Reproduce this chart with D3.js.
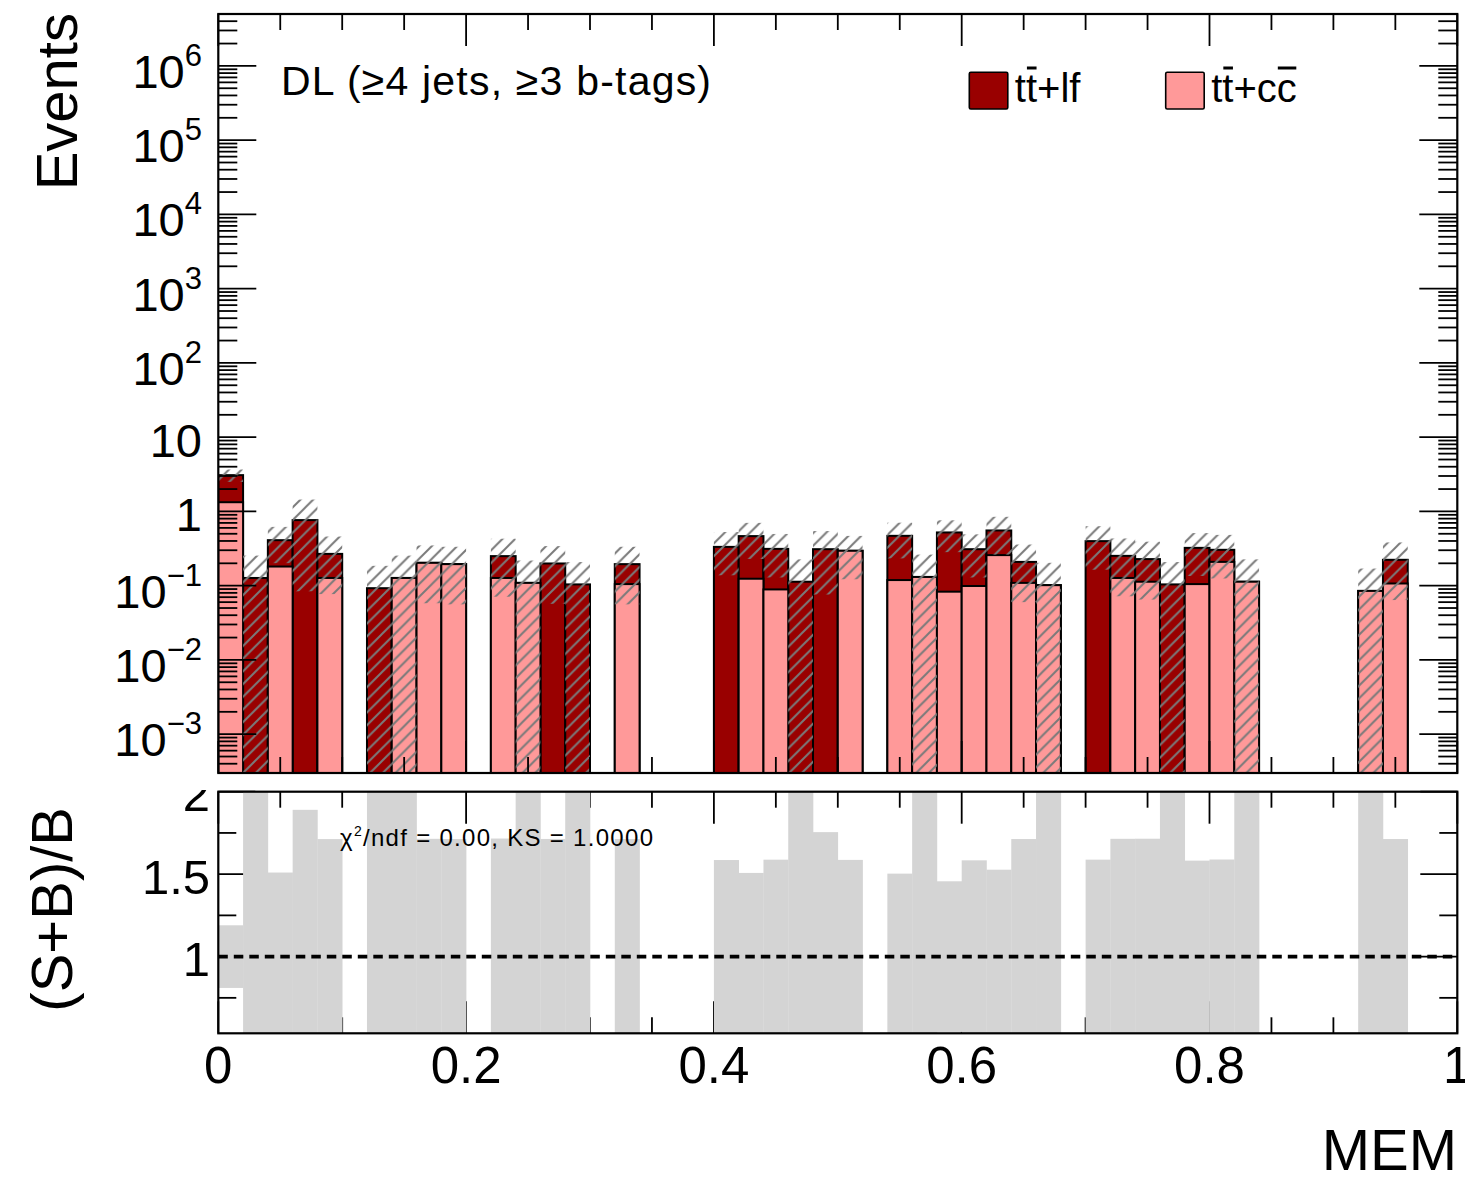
<!DOCTYPE html>
<html><head><meta charset="utf-8">
<script src="https://cdn.jsdelivr.net/npm/d3@7"></script>
<style>
body{margin:0;background:#fff}
text{font-family:"Liberation Sans",Arial,Helvetica,sans-serif;fill:#000}
</style>
</head><body>
<svg id="c" width="1465" height="1183" xmlns="http://www.w3.org/2000/svg"></svg>
<script>
// ---------------- data ----------------
const binLow = [0.00,0.02,0.04,0.06,0.08,0.10,0.12,0.14,0.16,0.18,
                0.20,0.22,0.24,0.26,0.28,0.30,0.32,0.34,0.36,0.38,
                0.40,0.42,0.44,0.46,0.48,0.50,0.52,0.54,0.56,0.58,
                0.60,0.62,0.64,0.66,0.68,0.70,0.72,0.74,0.76,0.78,
                0.80,0.82,0.84,0.86,0.88,0.90,0.92,0.94,0.96,0.98];
const binWidth = 0.02;
// tt+cc (bottom of stack)
const ttcc = [1.33,0,0.181,0,0.127,0,0,0.127,0.203,0.195,
              0,0.127,0.109,0,0,0,0.105,0,0,0,
              0,0.124,0.089,0,0,0.295,0,0.119,0.131,0.083,
              0.099,0.258,0.109,0.1016,0,0,0.127,0.113,0,0.105,
              0.209,0.113,0,0,0,0,0.085,0.107,0,0];
// tt+lf (top of stack)
const ttlf = [1.75,0.127,0.229,0.764,0.141,0,0.0925,0,0,0,
              0,0.123,0,0.199,0.104,0,0.09,0,0,0,
              0.333,0.341,0.224,0.113,0.31,0,0,0.35,0,0.438,
              0.211,0.296,0.10,0,0,0.398,0.125,0.115,0.104,0.218,
              0.095,0,0,0,0,0,0,0.116,0,0];
// absolute stat. uncertainty of the stack
const uncert = [0.585,0.127,0.209,0.68,0.191,0,0.0925,0.127,0.145,0.139,
                0,0.179,0.109,0.142,0.104,0,0.139,0,0,0,
                0.195,0.236,0.184,0.113,0.234,0.173,0,0.236,0.131,0.238,
                0.181,0.292,0.149,0.1016,0,0.234,0.18,0.163,0.104,0.188,
                0.179,0.113,0,0,0,0,0.085,0.159,0,0];
const legendLabels = [["t","t","+lf"],["t","t","+c","c"]];
const xTickValues = [0,0.2,0.4,0.6,0.8,1];
const xTickLabels = ["0","0.2","0.4","0.6","0.8","1"];
const yTickValues = [1e-3,1e-2,1e-1,1,10,1e2,1e3,1e4,1e5,1e6];
const yTickLabels = [["10","−3"],["10","−2"],["10","−1"],["1",""],["10",""],["10","2"],["10","3"],["10","4"],["10","5"],["10","6"]];
const rTickValues = [1,1.5,2];
const rTickLabels = ["1","1.5","2"];
const rMinorValues = [0.75,1.25,1.75];

// ---------------- layout ----------------
const X0=218.3, X1=1457.3, TY0=14, TY1=773, BY0=791.7, BY1=1033.3;
const svg = d3.select("#c");
const x = d3.scaleLinear().domain([0,1]).range([X0,X1]);
const y = d3.scaleLog().domain([3e-4,5e6]).range([TY1,TY0]);
const yr = d3.scaleLinear().domain([0.535,2.0]).range([BY1,BY0]);

const defs = svg.append("defs");
defs.append("clipPath").attr("id","clipTop").append("rect")
  .attr("x",X0).attr("y",TY0).attr("width",X1-X0).attr("height",TY1-TY0);
defs.append("clipPath").attr("id","clipBot").append("rect")
  .attr("x",X0).attr("y",BY0).attr("width",X1-X0).attr("height",BY1-BY0);
defs.append("clipPath").attr("id","clipLab").append("rect")
  .attr("x",0).attr("y",790).attr("width",X0).attr("height",400);
const H = 12.7;
const pat = defs.append("pattern").attr("id","hatch").attr("patternUnits","userSpaceOnUse")
  .attr("width",H).attr("height",H);
pat.append("path").attr("d",`M-1,1 L1,-1 M0,${H} L${H},0 M${H-1},${H+1} L${H+1},${H-1}`)
  .attr("stroke","#7a7a7a").attr("stroke-width",2).attr("fill","none");

const bins = binLow.map((lo,i)=>({lo, hi:lo+binWidth, cc:ttcc[i], lf:ttlf[i], tot:ttcc[i]+ttlf[i], err:uncert[i]}));

// ---------------- top panel ----------------
const gTop = svg.append("g").attr("clip-path","url(#clipTop)");
gTop.selectAll("rect.lf").data(bins.filter(b=>b.tot>0)).join("rect").attr("class","lf")
  .attr("x",b=>x(b.lo)).attr("width",b=>x(b.hi)-x(b.lo))
  .attr("y",b=>y(b.tot)).attr("height",b=>TY1+5-y(b.tot))
  .attr("fill","#990000").attr("stroke","#000").attr("stroke-width",2);
gTop.selectAll("rect.cc").data(bins.filter(b=>b.cc>0)).join("rect").attr("class","cc")
  .attr("x",b=>x(b.lo)).attr("width",b=>x(b.hi)-x(b.lo))
  .attr("y",b=>y(b.cc)).attr("height",b=>TY1+5-y(b.cc))
  .attr("fill","#ff9999").attr("stroke","#000").attr("stroke-width",2);
gTop.selectAll("rect.unc").data(bins.filter(b=>b.err>0)).join("rect").attr("class","unc")
  .attr("x",b=>x(b.lo)).attr("width",b=>x(b.hi)-x(b.lo))
  .attr("y",b=>y(b.tot+b.err))
  .attr("height",b=>{const lo=b.tot-b.err; const yl = lo>3e-4? y(lo):TY1+5; return yl-y(b.tot+b.err);})
  .attr("fill","url(#hatch)");

// axes
const ax = svg.append("g").attr("stroke","#000").attr("stroke-width",1.8);
function tickLine(g,x1,y1,x2,y2){g.append("line").attr("x1",x1).attr("y1",y1).attr("x2",x2).attr("y2",y2);}
const xMinor = d3.range(0,21).map(i=>i*0.05);
xMinor.forEach(v=>{
  const major = xTickValues.some(t=>Math.abs(t-v)<1e-9);
  const px = x(v);
  const L1 = major?32:16;
  tickLine(ax,px,TY1,px,TY1-L1); tickLine(ax,px,TY0,px,TY0+L1);
  tickLine(ax,px,BY1,px,BY1-L1); tickLine(ax,px,BY0,px,BY0+L1);
});
for(let k=-4;k<=6;k++){
  for(let m=1;m<=9;m++){
    const v=m*Math.pow(10,k);
    if(v<3e-4||v>5e6) continue;
    const py=y(v); const L=(m===1)?38:19;
    tickLine(ax,X0,py,X0+L,py); tickLine(ax,X1,py,X1-L,py);
  }
}
rTickValues.forEach(v=>{const py=yr(v); tickLine(ax,X0,py,X0+37,py); tickLine(ax,X1,py,X1-37,py);});
rMinorValues.forEach(v=>{const py=yr(v); tickLine(ax,X0,py,X0+18,py); tickLine(ax,X1,py,X1-18,py);});

svg.append("rect").attr("x",X0).attr("y",TY0).attr("width",X1-X0).attr("height",TY1-TY0)
  .attr("fill","none").attr("stroke","#000").attr("stroke-width",2.2);

yTickValues.forEach((v,i)=>{
  const [base,exp]=yTickLabels[i];
  const py=y(v);
  const t=svg.append("text").attr("text-anchor","end").attr("font-size",47);
  if(exp===""){
    t.attr("x",202).attr("y",py+19.5).text(base);
  } else {
    t.attr("x",202).attr("y",py+22);
    t.append("tspan").text(base);
    t.append("tspan").attr("font-size",31).attr("dy",-22).text(exp);
  }
});
svg.append("text").attr("transform","translate(77,13) rotate(-90)").attr("text-anchor","end")
  .attr("font-size",58).text("Events");

svg.append("text").attr("x",281).attr("y",95).attr("font-size",41).attr("textLength",430)
  .attr("lengthAdjust","spacing").text("DL (≥4 jets, ≥3 b-tags)");

const legX=[969.3,1165.7], legFill=["#990000","#ff9999"];
legendLabels.forEach((parts,i)=>{
  svg.append("rect").attr("x",legX[i]).attr("y",72.3).attr("width",38.5).attr("height",36.7)
    .attr("rx",1.5).attr("fill",legFill[i]).attr("stroke","#000").attr("stroke-width",1.6);
  const t=svg.append("text").attr("x",legX[i]+45.5).attr("y",102).attr("font-size",40);
  parts.forEach(p=>t.append("tspan").text(p));
  const node=t.node();
  const str=parts.join("");
  const bars=[1]; if(i===1) bars.push(str.length-1);
  bars.forEach(ci=>{
    const ext=node.getExtentOfChar(ci);
    svg.append("line").attr("x1",ext.x+1).attr("x2",ext.x+ext.width-0.5)
      .attr("y1",ext.y+2).attr("y2",ext.y+2).attr("stroke","#000").attr("stroke-width",3);
  });
});

// ---------------- ratio panel ----------------
const gBot = svg.append("g").attr("clip-path","url(#clipBot)");
gBot.selectAll("rect.rb").data(bins.filter(b=>b.tot>0)).join("rect").attr("class","rb")
  .attr("x",b=>x(b.lo)).attr("width",b=>x(b.hi)-x(b.lo)+0.3)
  .attr("y",b=>yr(1+b.err/b.tot)).attr("height",b=>yr(1-b.err/b.tot)-yr(1+b.err/b.tot))
  .attr("fill","#d4d4d4");
gBot.append("line").attr("x1",X0).attr("x2",X1).attr("y1",yr(1)).attr("y2",yr(1))
  .attr("stroke","#000").attr("stroke-width",3.6).attr("stroke-dasharray","9.5,6");
svg.append("rect").attr("x",X0).attr("y",BY0).attr("width",X1-X0).attr("height",BY1-BY0)
  .attr("fill","none").attr("stroke","#000").attr("stroke-width",2.2);

const chi=svg.append("text").attr("x",340).attr("y",846).attr("font-size",24)
  .attr("textLength",313).attr("lengthAdjust","spacing");
chi.append("tspan").text("χ");
chi.append("tspan").attr("font-size",14).attr("dy",-10).text("2");
chi.append("tspan").attr("dy",10).text("/ndf = 0.00, KS = 1.0000");

const gLab=svg.append("g").attr("clip-path","url(#clipLab)");
rTickValues.forEach((v,i)=>{
  gLab.append("text").attr("x",210).attr("y",yr(v)+19.5).attr("text-anchor","end")
    .attr("font-size",49).text(rTickLabels[i]);
});
svg.append("text").attr("transform","translate(72,807) rotate(-90)").attr("text-anchor","end")
  .attr("font-size",58).text("(S+B)/B");

xTickValues.forEach((v,i)=>{
  svg.append("text").attr("x",x(v)).attr("y",1083).attr("text-anchor","middle")
    .attr("font-size",51).text(xTickLabels[i]);
});
svg.append("text").attr("x",1457).attr("y",1170).attr("text-anchor","end")
  .attr("font-size",58).text("MEM");
</script>
</body></html>
